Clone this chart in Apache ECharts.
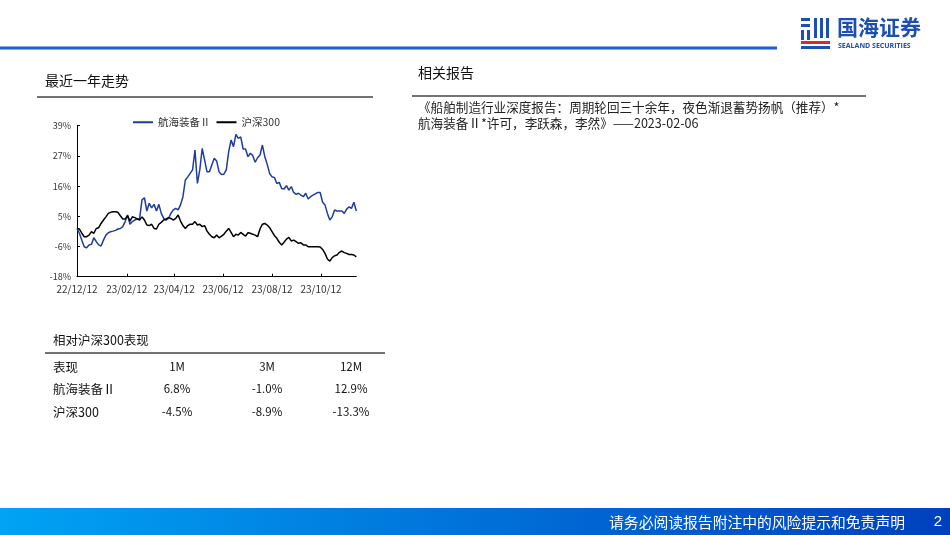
<!DOCTYPE html>
<html><head><meta charset="utf-8">
<script src="https://cdn.jsdelivr.net/npm/echarts@6/dist/echarts.min.js"></script>
<style>html,body{margin:0;padding:0;background:#fff}#c{width:950px;height:535px}</style>
</head><body><div id="c"></div>
<script>
var seriesNames = ['航海装备Ⅱ', '沪深300'];
var dates = ['2022-12-12','2022-12-15','2022-12-18','2022-12-21','2022-12-24','2022-12-27','2022-12-30','2023-01-02','2023-01-05','2023-01-08',
'2023-01-11','2023-01-14','2023-01-17','2023-01-20','2023-01-23','2023-01-26','2023-01-29','2023-02-01','2023-02-04','2023-02-07',
'2023-02-10','2023-02-13','2023-02-16','2023-02-19','2023-02-22','2023-02-25','2023-02-28','2023-03-03','2023-03-06','2023-03-09',
'2023-03-12','2023-03-15','2023-03-18','2023-03-21','2023-03-24','2023-03-27','2023-03-30','2023-04-02','2023-04-05','2023-04-08',
'2023-04-11','2023-04-14','2023-04-17','2023-04-20','2023-04-23','2023-04-26','2023-04-29','2023-05-02','2023-05-05','2023-05-08',
'2023-05-11','2023-05-14','2023-05-17','2023-05-20','2023-05-23','2023-05-26','2023-05-29','2023-06-01','2023-06-04','2023-06-07',
'2023-06-10','2023-06-13','2023-06-16','2023-06-19','2023-06-22','2023-06-25','2023-06-28','2023-07-01','2023-07-04','2023-07-07',
'2023-07-10','2023-07-13','2023-07-16','2023-07-19','2023-07-22','2023-07-25','2023-07-28','2023-07-31','2023-08-03','2023-08-06',
'2023-08-09','2023-08-12','2023-08-15','2023-08-18','2023-08-21','2023-08-24','2023-08-27','2023-08-30','2023-09-02','2023-09-05',
'2023-09-08','2023-09-11','2023-09-14','2023-09-17','2023-09-20','2023-09-23','2023-09-26','2023-09-29','2023-10-02','2023-10-05',
'2023-10-08','2023-10-11','2023-10-14','2023-10-17','2023-10-20','2023-10-23','2023-10-26','2023-10-29','2023-11-01','2023-11-04',
'2023-11-07','2023-11-10','2023-11-13','2023-11-16','2023-11-19','2023-11-22','2023-11-25'];
var hangHai = [0.2,-1.6,-4.2,-6.7,-7.1,-6.0,-5.8,-3.3,-4.8,-6.0,
-6.4,-4.2,-2.3,-1.4,-1.0,-0.8,-0.5,0.0,0.2,0.9,
2.8,5.3,1.8,2.8,3.4,3.8,4.0,11.0,11.8,6.8,
9.7,8.0,9.3,6.8,9.3,5.9,4.0,3.4,4.0,5.9,
7.2,7.8,7.2,9.1,12.2,18.5,19.7,21.0,22.3,29.8,
17.2,22.3,30.4,26.0,21.6,21.6,24.2,26.7,25.7,21.6,
20.6,20.7,22.3,29.2,33.6,31.1,35.7,34.2,34.8,30.2,
30.2,27.3,28.6,27.7,25.2,26.9,27.9,31.7,27.3,24.4,
21.0,19.7,19.4,17.2,17.6,15.3,15.1,16.4,14.7,16.0,
13.8,13.1,13.5,12.8,12.2,13.5,11.3,12.2,12.8,13.3,
13.8,13.8,10.1,9.1,5.9,3.4,4.6,7.2,6.8,6.8,
6.8,5.9,7.5,8.4,7.8,10.1,6.8];
var hs300 = [0.2,0.0,-1.6,-2.9,-2.9,-2.3,-1.0,-1.6,0.2,0.5,
2.1,3.4,4.6,5.9,6.3,6.5,6.5,6.3,5.0,3.8,
3.8,5.0,3.0,4.6,4.3,3.8,3.4,4.6,3.4,1.5,
1.3,1.8,0.2,0.0,1.8,2.5,3.4,3.8,4.3,4.0,
3.4,4.0,5.3,3.0,1.3,0.2,1.3,1.8,1.8,2.8,
1.5,1.8,0.9,1.3,-0.8,-2.0,-2.9,-3.3,-2.3,-3.3,
-2.7,-2.0,-0.8,0.2,-1.3,-2.9,-2.0,-2.3,-1.3,-2.0,
-2.7,-1.4,-1.6,-2.0,-2.3,-2.9,0.0,1.8,2.1,1.5,
0.5,-1.0,-2.5,-3.5,-5.0,-6.0,-5.0,-3.8,-3.2,-4.5,
-4.2,-4.8,-5.4,-5.2,-6.0,-6.0,-6.7,-6.7,-6.7,-6.7,
-6.7,-6.8,-7.7,-9.2,-11.3,-12.1,-10.8,-10.1,-9.8,-8.8,
-8.3,-8.9,-9.2,-9.6,-9.6,-9.8,-10.5];
var xTickDates = ['2022-12-12','2023-02-12','2023-04-12','2023-06-12','2023-08-12','2023-10-12'];
var xTickLabels = ['22/12/12','23/02/12','23/04/12','23/06/12','23/08/12','23/10/12'];
var yTickValues = [-18, -6.6, 4.8, 16.2, 27.6, 39];
var yTickLabels = ['-18%','-6%','5%','16%','27%','39%'];
var tableHeader = ['表现','1M','3M','12M'];
var tableRows = [['航海装备Ⅱ','6.8%','-1.0%','12.9%'],['沪深300','-4.5%','-8.9%','-13.3%']];

function ts(s){return Date.parse(s);}
var FONT = '"Noto Sans CJK SC", "Noto Sans", sans-serif';
var chart = echarts.init(document.getElementById('c'), null, {renderer:'canvas'});
var xTicks = xTickDates.map(ts);
function pair(arr){return dates.map(function(d,i){return [ts(d), arr[i]];});}

var g = [];
g.push({type:'rect', shape:{x:0,y:46.5,width:777,height:3}, style:{fill:'#1f5ccc'}});
// logo icon
g.push({type:'rect', shape:{x:801,y:18,width:9,height:3}, style:{fill:'#1c4fb0'}});
g.push({type:'rect', shape:{x:801,y:24,width:9,height:3}, style:{fill:'#1c4fb0'}});
g.push({type:'rect', shape:{x:801,y:30,width:3,height:10}, style:{fill:'#1c4fb0'}});
g.push({type:'rect', shape:{x:807,y:30,width:3,height:10}, style:{fill:'#1c4fb0'}});
g.push({type:'rect', shape:{x:814,y:18,width:3,height:20}, style:{fill:'#1c4fb0'}});
g.push({type:'rect', shape:{x:820,y:18,width:3,height:20}, style:{fill:'#1c4fb0'}});
g.push({type:'rect', shape:{x:826,y:18,width:3,height:20}, style:{fill:'#1c4fb0'}});
g.push({type:'rect', shape:{x:801,y:41,width:29,height:3}, style:{fill:'#e0262d'}});
g.push({type:'rect', shape:{x:801,y:46,width:29,height:3}, style:{fill:'#1c4fb0'}});
g.push({type:'text', left:837, top:17, style:{text:'国海证券', font:'bold 21px '+FONT, fill:'#1c4fb0'}});
g.push({type:'text', left:838, top:42, style:{text:'SEALAND SECURITIES', font:'bold 7px "Open Sans", sans-serif', fill:'#1c4fb0'}});
// section titles
g.push({type:'text', left:45, top:74, style:{text:'最近一年走势', font:'14px '+FONT, fill:'#111'}});
g.push({type:'line', shape:{x1:37,y1:97,x2:373,y2:97}, style:{stroke:'#444', lineWidth:1.5}});
g.push({type:'text', left:418, top:66, style:{text:'相关报告', font:'14px '+FONT, fill:'#111'}});
g.push({type:'line', shape:{x1:412,y1:96,x2:866,y2:96}, style:{stroke:'#444', lineWidth:1.5}});
g.push({type:'text', left:418, top:99, style:{text:'《船舶制造行业深度报告：周期轮回三十余年，夜色渐退蓄势扬帆（推荐）*\n航海装备Ⅱ*许可，李跃森，李然》——2023-02-06', font:'12.6px '+FONT, fill:'#222', lineHeight:16}});
// table
g.push({type:'text', left:53, top:334, style:{text:'相对沪深300表现', font:'12.5px '+FONT, fill:'#111'}});
g.push({type:'line', shape:{x1:45,y1:353,x2:385,y2:353}, style:{stroke:'#444', lineWidth:1.5}});
var colX = [53, 177, 267, 351];
var rowY = [367, 389, 412];
[tableHeader].concat(tableRows).forEach(function(row, r){
  row.forEach(function(cell, c){
    g.push({type:'text', x: colX[c], y: rowY[r], style:{text:cell, font:(c===0?'12.5px ':'11.5px ')+FONT, fill:'#111', align:(c===0?'left':'center'), verticalAlign:'middle'}});
  });
});
// footer
g.push({type:'rect', shape:{x:0,y:508,width:950,height:27}, style:{fill:new echarts.graphic.LinearGradient(0,0,1,1,[{offset:0,color:'#00a3f5'},{offset:1,color:'#0040bd'}])}});
g.push({type:'text', x:905, y:522, style:{text:'请务必阅读报告附注中的风险提示和免责声明', font:'14.8px '+FONT, fill:'#fff', align:'right', verticalAlign:'middle'}});
g.push({type:'text', x:938, y:522, style:{text:'2', font:'15px "Liberation Sans", sans-serif', fill:'#fff', align:'center', verticalAlign:'middle'}});

chart.setOption({
  animation:false,
  textStyle:{fontFamily:FONT},
  grid:{left:77, top:125.7, width:279.3, height:151, containLabel:false},
  legend:{left:128, top:112, itemWidth:20, itemHeight:2, itemGap:6, icon:'rect',
    textStyle:{fontSize:10.5, color:'#333', fontFamily:FONT}, data:seriesNames},
  xAxis:{type:'value', min:ts(dates[0]), max:ts(dates[dates.length-1]),
    axisLine:{show:true, onZero:false, lineStyle:{color:'#000', width:1}},
    axisTick:{show:true, inside:true, length:3, customValues:xTicks, lineStyle:{color:'#000'}},
    axisLabel:{customValues:xTicks, fontSize:10, color:'#333', margin:8,
      formatter:function(v){var i=xTicks.indexOf(v); return i>=0?xTickLabels[i]:'';}},
    splitLine:{show:false}},
  yAxis:{type:'value', min:-18, max:39,
    axisLine:{show:true, onZero:false, lineStyle:{color:'#000', width:1}},
    axisTick:{show:true, inside:true, length:3, customValues:yTickValues, lineStyle:{color:'#000'}},
    axisLabel:{customValues:yTickValues, fontSize:9, color:'#333', margin:6,
      formatter:function(v){var i=yTickValues.indexOf(v); return i>=0?yTickLabels[i]:'';}},
    splitLine:{show:false}},
  series:[
    {name:seriesNames[0], type:'line', data:pair(hangHai), showSymbol:false, symbol:'none', lineStyle:{color:'#1f3d9c', width:1.5}, itemStyle:{color:'#1f3d9c'}},
    {name:seriesNames[1], type:'line', data:pair(hs300), showSymbol:false, symbol:'none', lineStyle:{color:'#000', width:1.5}, itemStyle:{color:'#000'}}
  ],
  graphic:g
});
</script></body></html>
